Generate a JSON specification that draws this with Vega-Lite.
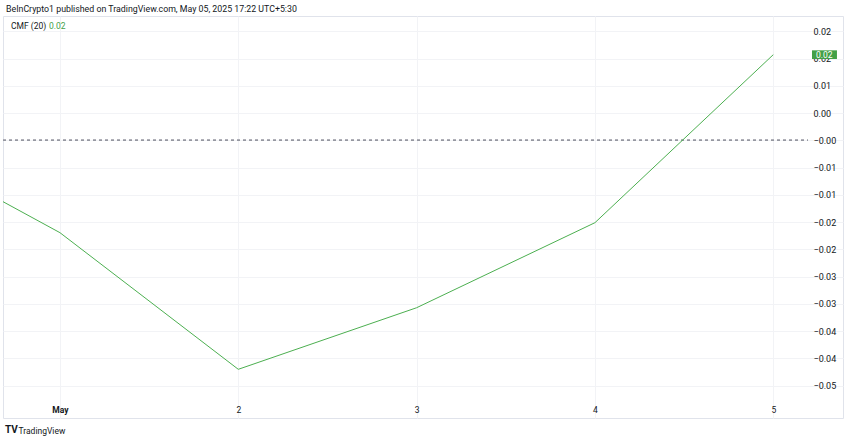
{
  "$schema": "https://vega.github.io/schema/vega-lite/v6.json",
  "autosize": {"type": "none"},
  "width": 840,
  "height": 402,
  "padding": {"left": 3, "top": 16, "right": 7, "bottom": 22},
  "background": "#ffffff",
  "title": {
    "text": "BeInCrypto1 published on TradingView.com, May 05, 2025 17:22 UTC+5:30",
    "anchor": "start",
    "frame": "group",
    "dx": 3,
    "offset": -7,
    "baseline": "bottom",
    "font": "Roboto",
    "fontSize": 8.8,
    "fontWeight": "normal",
    "color": "#131722"
  },
  "config": {
    "view": {"stroke": "#e0e3eb", "strokeWidth": 1},
    "font": "Roboto"
  },
  "data": {
    "values": [
      {"date": "2025-04-30T00:00:00Z", "cmf": 0.00086},
      {"date": "2025-05-01T00:00:00Z", "cmf": -0.01695},
      {"date": "2025-05-02T00:00:00Z", "cmf": -0.04202},
      {"date": "2025-05-03T00:00:00Z", "cmf": -0.03072},
      {"date": "2025-05-04T00:00:00Z", "cmf": -0.01512},
      {"date": "2025-05-05T00:00:00Z", "cmf": 0.01571}
    ]
  },
  "encoding": {
    "x": {
      "field": "date",
      "type": "temporal",
      "scale": {
        "type": "utc",
        "domain": [
          {"year": 2025, "month": "apr", "date": 30, "hours": 16, "minutes": 20, "utc": true},
          {"year": 2025, "month": "may", "date": 5, "hours": 9, "minutes": 23, "utc": true}
        ]
      },
      "axis": {
        "orient": "bottom",
        "offset": -18,
        "values": [
          {"year": 2025, "month": "may", "date": 1, "utc": true},
          {"year": 2025, "month": "may", "date": 2, "utc": true},
          {"year": 2025, "month": "may", "date": 3, "utc": true},
          {"year": 2025, "month": "may", "date": 4, "utc": true},
          {"year": 2025, "month": "may", "date": 5, "utc": true}
        ],
        "labelExpr": "utcdate(datum.value) == 1 ? 'May' : '' + utcdate(datum.value)",
        "labelFontWeight": {"condition": {"test": "utcdate(datum.value) == 1", "value": "bold"}, "value": "normal"},
        "labelFontSize": 8.5,
        "labelColor": "#131722",
        "labelPadding": 5,
        "labelBaseline": "top",
        "domain": false,
        "ticks": false,
        "grid": true,
        "gridColor": "#f2f3f6",
        "gridWidth": 1,
        "title": "TradingView",
        "titleFont": "Roboto",
        "titleFontSize": 8.5,
        "titleFontWeight": "normal",
        "titleColor": "#131722",
        "titleAlign": "left",
        "titleBaseline": "middle",
        "titleX": 15,
        "titleY": 30
      }
    },
    "y": {
      "field": "cmf",
      "type": "quantitative",
      "scale": {"domain": [-0.050954, 0.022807], "nice": false, "zero": false},
      "axis": {
        "orient": "right",
        "offset": -35,
        "values": [-0.045, -0.04, -0.035, -0.03, -0.025, -0.02, -0.015, -0.01, -0.005, 0, 0.005, 0.01, 0.015, 0.02],
        "labelExpr": "['−0.05','−0.04','−0.04','−0.03','−0.03','−0.02','−0.02','−0.01','−0.01','−0.00','0.00','0.01','0.02','0.02'][round(datum.value / 0.005) + 9]",
        "labelFontSize": 9,
        "labelColor": "#131722",
        "labelPadding": 5,
        "labelAlign": "left",
        "labelBaseline": "middle",
        "domain": false,
        "ticks": false,
        "grid": true,
        "gridColor": "#f2f3f6",
        "gridWidth": 1,
        "title": null
      }
    }
  },
  "layer": [
    {
      "mark": {"type": "rule", "color": "#9598a1", "strokeWidth": 1, "strokeDash": [3, 3]},
      "encoding": {
        "x": {"datum": {"year": 2025, "month": "apr", "date": 30, "hours": 16, "minutes": 20, "utc": true}, "type": "temporal"},
        "x2": {"datum": {"year": 2025, "month": "may", "date": 5, "hours": 4, "minutes": 40, "utc": true}},
        "y": {"datum": 0, "type": "quantitative"}
      }
    },
    {
      "mark": {"type": "line", "color": "#4caf50", "strokeWidth": 1, "clip": true}
    },
    {
      "transform": [{"filter": "utcdate(datum.date) == 5"}],
      "mark": {
        "type": "point",
        "shape": "M0.605,-0.068H0.995V0.068H0.605Z",
        "size": 16384,
        "filled": true,
        "fill": "#43a047",
        "opacity": 1,
        "strokeWidth": 0
      }
    },
    {
      "transform": [{"filter": "utcdate(datum.date) == 5"}],
      "mark": {"type": "text", "color": "#ffffff", "fontSize": 8.5, "dx": 51, "align": "center", "baseline": "middle"},
      "encoding": {"text": {"field": "cmf", "type": "quantitative", "format": ".2f"}}
    },
    {
      "transform": [{"filter": "utcdate(datum.date) == 5"}],
      "mark": {"type": "text", "color": "#131722", "fontSize": 8.5, "dx": 8, "align": "left", "baseline": "middle"},
      "encoding": {
        "x": {"datum": {"year": 2025, "month": "apr", "date": 30, "hours": 16, "minutes": 20, "utc": true}, "type": "temporal"},
        "y": {"datum": 0.02097, "type": "quantitative"},
        "text": {"value": "CMF (20)"}
      }
    },
    {
      "transform": [{"filter": "utcdate(datum.date) == 5"}],
      "mark": {"type": "text", "color": "#43a047", "fontSize": 8.5, "dx": 46, "align": "left", "baseline": "middle"},
      "encoding": {
        "x": {"datum": {"year": 2025, "month": "apr", "date": 30, "hours": 16, "minutes": 20, "utc": true}, "type": "temporal"},
        "y": {"datum": 0.02097, "type": "quantitative"},
        "text": {"field": "cmf", "type": "quantitative", "format": ".2f"}
      }
    },
    {
      "transform": [{"filter": "utcdate(datum.date) == 5"}],
      "mark": {"type": "text", "color": "#131722", "fontSize": 10, "fontWeight": "bold", "dx": 2, "align": "left", "baseline": "middle"},
      "encoding": {
        "x": {"datum": {"year": 2025, "month": "apr", "date": 30, "hours": 16, "minutes": 20, "utc": true}, "type": "temporal"},
        "y": {"datum": -0.05316, "type": "quantitative"},
        "text": {"value": "TV"}
      }
    }
  ]
}
